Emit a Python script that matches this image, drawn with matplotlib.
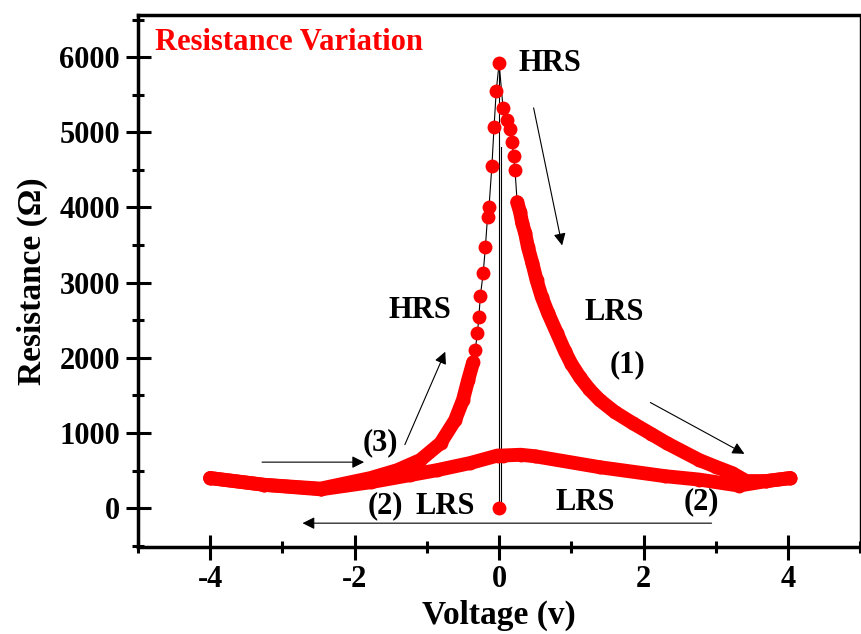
import matplotlib
matplotlib.use('Agg')
import matplotlib.pyplot as plt
from matplotlib.ticker import MultipleLocator

plt.rcParams['font.family'] = ['Liberation Serif', 'DejaVu Serif']
plt.rcParams['font.weight'] = 'bold'
plt.rcParams['axes.unicode_minus'] = False

# branch (1): sweep 0 -> +4 V, HRS dropping to LRS
v1 = [0.0, 0.055, 0.11, 0.15, 0.18, 0.20, 0.22, 0.25, 0.29, 0.32, 0.36, 0.40,
      0.46, 0.52, 0.59, 0.68, 0.80, 0.91, 1.00, 1.12, 1.25, 1.39, 1.60, 1.85,
      2.10, 2.32, 2.77, 3.00, 3.23, 3.42, 3.70, 4.03]
r1 = [5920, 5320, 5160, 5040, 4870, 4680, 4500, 4070, 3940, 3790, 3660, 3470,
      3260, 3030, 2810, 2590, 2330, 2090, 1920, 1740, 1580, 1440, 1280, 1130,
      990, 865, 640, 550, 465, 360, 360, 400]

# branch (2): sweep +4 -> -4 V in LRS
v2 = [4.03, 3.70, 3.32, 2.77, 2.30, 1.39, 0.50, 0.30, 0.05, -0.02, -0.40,
      -0.86, -1.23, -1.78, -2.47, -3.25, -4.00]
r2 = [400, 360, 300, 380, 425, 545, 690, 710, 700, 700, 600,
      505, 440, 345, 250, 310, 400]

# branch (3): sweep -4 -> 0 V, back to HRS
v3 = [-4.00, -3.25, -2.47, -1.78, -1.41, -1.09, -0.81, -0.61, -0.50, -0.43,
      -0.36, -0.33, -0.30, -0.28, -0.26, -0.22, -0.19, -0.16, -0.14, -0.10,
      -0.07, -0.04]
r3 = [400, 310, 260, 400, 505, 640, 865, 1170, 1440, 1700,
      1940, 2110, 2330, 2540, 2820, 3130, 3470, 3880, 4000, 4550,
      5070, 5547]

# isolated point at the origin
v0 = [0.0]
r0 = [0]

red = '#ff0000'
fig, ax = plt.subplots(figsize=(8.62, 6.34), dpi=100)
fig.subplots_adjust(left=0.16, right=0.998, bottom=0.137, top=0.976)

# thin black connecting line
ax.plot(v3 + v1, r3 + r1, color='black', lw=0.8, zorder=2)
ax.plot([0.0, 0.0], [r0[0], r1[0]], color='black', lw=0.8, zorder=2)
ax.plot([0.03, 0.03], [r0[0], 4800], color='black', lw=0.8, zorder=2)

# dense parts drawn as a thick band (threshold differs per branch)
for v, r, lim in [(v1, r1, 4100), (v2, r2, 9999), (v3, r3, 2000)]:
    dv = [a for a, b in zip(v, r) if b < lim]
    dr = [b for b in r if b < lim]
    ax.plot(dv, dr, color=red, lw=10, solid_capstyle='round',
            solid_joinstyle='round', zorder=3)
    ax.plot(v, r, 'o', color=red, ms=10, mec='none', zorder=4)
ax.plot(v0, r0, 'o', color=red, ms=10, mec='none', zorder=4)

ax.set_xlim(-5, 5)
ax.set_ylim(-519, 6558)
ax.xaxis.set_major_locator(MultipleLocator(2))
ax.xaxis.set_minor_locator(MultipleLocator(1))
ax.yaxis.set_major_locator(MultipleLocator(1000))
ax.yaxis.set_minor_locator(MultipleLocator(500))
ax.tick_params(which='major', direction='inout', length=18, width=2.2,
               labelsize=22, top=False, right=False, pad=4)
ax.tick_params(which='minor', direction='inout', length=9, width=2.2,
               top=False, right=False)
for lab in ax.get_xticklabels() + ax.get_yticklabels():
    lab.set_fontweight('bold')
for s in ['left', 'bottom', 'top']:
    ax.spines[s].set_linewidth(2.5)
ax.spines['right'].set_linewidth(1.0)

ax.set_xlabel('Voltage (v)', fontsize=24, fontweight='bold', labelpad=4)
ax.set_ylabel('Resistance (\u03a9)', fontsize=24, fontweight='bold', labelpad=8)

txt = dict(fontsize=22, fontweight='bold', ha='center', va='center')
ax.text(-4.77, 6200, 'Resistance Variation', color=red, fontsize=22,
        fontweight='bold', ha='left', va='center')
ax.text(0.70, 5920, 'HRS', **txt)
ax.text(-1.09, 2634, 'HRS', **txt)
ax.text(1.59, 2607, 'LRS', **txt)
ax.text(1.78, 1902, '(1)', **txt)
ax.text(-1.64, 865, '(3)', **txt)
ax.text(-1.57, 27, '(2)', **txt)
ax.text(-0.74, 27, 'LRS', **txt)
ax.text(1.19, 80, 'LRS', **txt)
ax.text(2.80, 80, '(2)', **txt)

arr = dict(arrowstyle='-|>', color='black', lw=0.8, mutation_scale=18)
ax.annotate('', xy=(0.88, 3459), xytext=(0.47, 5361), arrowprops=arr)
ax.annotate('', xy=(3.43, 705), xytext=(2.06, 1423), arrowprops=arr)
ax.annotate('', xy=(-0.73, 2115), xytext=(-1.32, 811), arrowprops=arr)
ax.annotate('', xy=(-1.83, 612), xytext=(-3.32, 612), arrowprops=arr)
ax.annotate('', xy=(-2.76, -200), xytext=(2.98, -200), arrowprops=arr)

fig.savefig('out.png', dpi=100)
